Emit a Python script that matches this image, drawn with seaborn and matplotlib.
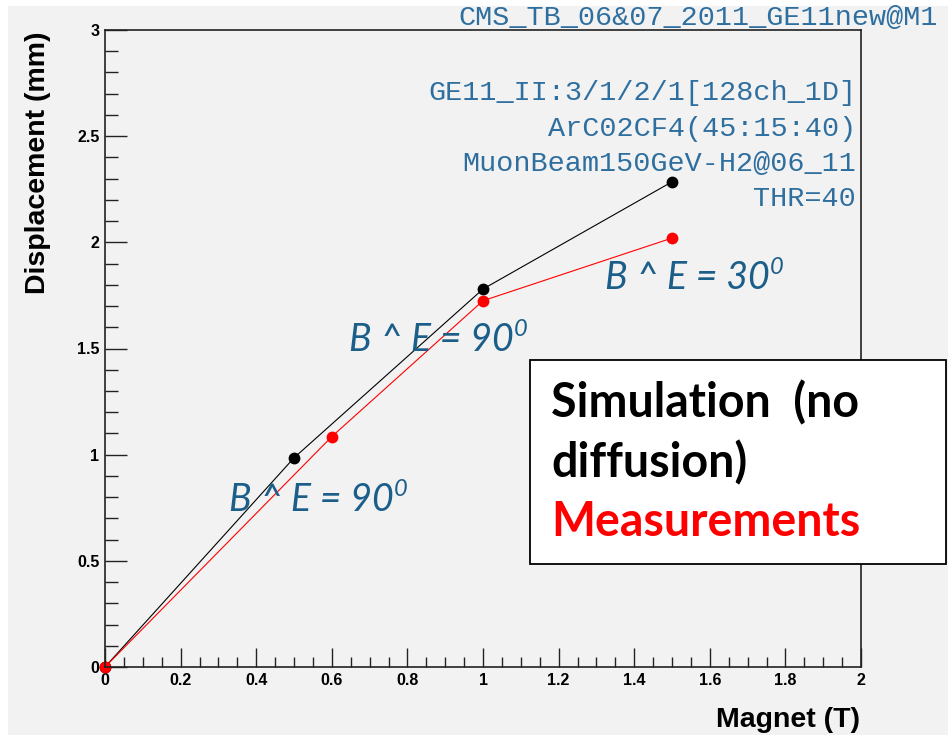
import matplotlib
matplotlib.use("Agg")
import matplotlib.pyplot as plt
import matplotlib.ticker as mticker
from matplotlib.patches import Rectangle
import numpy as np
import pandas as pd
import seaborn as sns

# ---------------- data ----------------
sim_x = [0.0, 0.5, 1.0, 1.5]
sim_y = [0.0, 0.985, 1.78, 2.285]
meas_x = [0.0, 0.6, 1.0, 1.5]
meas_y = [0.0, 1.085, 1.725, 2.02]
series_names = ["Simulation", "Measurements"]
series_colors = ["black", "red"]

x_ticks = [0, 0.2, 0.4, 0.6, 0.8, 1.0, 1.2, 1.4, 1.6, 1.8, 2.0]
y_ticks = [0, 0.5, 1.0, 1.5, 2.0, 2.5, 3.0]

info_title = "CMS_TB_06&07_2011_GE11new@M1"
info_lines = ["GE11_II:3/1/2/1[128ch_1D]", "ArC02CF4(45:15:40)",
              "MuonBeam150GeV-H2@06_11", "THR=40"]
angle_labels = ["B ^ E = 90", "B ^ E = 90", "B ^ E = 30"]

df = pd.DataFrame({
    "x": sim_x + meas_x,
    "y": sim_y + meas_y,
    "series": [series_names[0]] * len(sim_x) + [series_names[1]] * len(meas_x),
})

# ---------------- figure ----------------
W, H = 948, 744
fig = plt.figure(figsize=(W / 100, H / 100), dpi=100)
fig.patch.set_facecolor("white")
fig.patches.append(Rectangle((8 / W, 9 / H), 1 - 8 / W, 1 - 6 / H - 9 / H,
                             transform=fig.transFigure, facecolor="#f2f2f2",
                             edgecolor="none", zorder=-10))

def fx(px):
    return px / W

def fy(py):
    return 1 - py / H

ax = fig.add_axes([fx(105), fy(667), fx(861) - fx(105), fy(30) - fy(667)])
ax.set_facecolor("none")

sns.lineplot(data=df, x="x", y="y", hue="series",
             palette=dict(zip(series_names, series_colors)),
             hue_order=series_names, sort=False, estimator=None,
             marker="o", markersize=8.5, markeredgewidth=0, linewidth=0.8,
             legend=False, ax=ax, clip_on=False)

ax.set_xlim(0, 2)
ax.set_ylim(0, 3)
ax.set_xlabel("")
ax.set_ylabel("")

ax.xaxis.set_major_locator(mticker.FixedLocator(x_ticks))
ax.yaxis.set_major_locator(mticker.FixedLocator(y_ticks))
ax.xaxis.set_minor_locator(mticker.MultipleLocator(0.05))
ax.yaxis.set_minor_locator(mticker.MultipleLocator(0.1))
fmt = mticker.FuncFormatter(lambda v, p: "%g" % v)
ax.xaxis.set_major_formatter(fmt)
ax.yaxis.set_major_formatter(fmt)

ax.tick_params(axis="both", which="both", direction="in", color="#222222",
               width=1.0, top=False, right=False,
               labelsize=11.5, labelfontfamily="Liberation Sans")
ax.tick_params(axis="x", which="major", length=14, pad=4)
ax.tick_params(axis="x", which="minor", length=7)
ax.tick_params(axis="y", which="major", length=16, pad=4)
ax.tick_params(axis="y", which="minor", length=9)
plt.setp(ax.get_xticklabels() + ax.get_yticklabels(), fontweight="bold")
for sp in ax.spines.values():
    sp.set_linewidth(1.2)
    sp.set_color("#222222")

# axis titles
fig.text(fx(38), fy(31), "Displacement (mm)", rotation=90, ha="center",
         va="top", family="Liberation Sans", weight="bold", fontsize=20.5)
fig.text(fx(860), fy(720), "Magnet (T)", ha="right", va="center",
         family="Liberation Sans", weight="bold", fontsize=20.5)

# info text (Courier-like)
info_color = "#2f6f9f"
fig.text(fx(458), fy(18), info_title, ha="left", va="center",
         family="Liberation Mono", fontsize=20.5, color=info_color)
for i, line in enumerate(info_lines):
    fig.text(fx(856), fy(93 + 35.5 * i), line, ha="right", va="center",
             family="Liberation Mono", fontsize=20.5, color=info_color)

# angle annotations
ann_color = "#1b5e8a"
ann_pos = [(229, 500), (349, 340), (605, 278)]
for lab, (px, py) in zip(angle_labels, ann_pos):
    t = fig.text(fx(px), fy(py), lab, ha="left", va="center", family="Lato",
                 style="italic", fontsize=27, color=ann_color)
    ax.annotate("0", xy=(1.0, 1.08), xycoords=t, ha="left", va="top",
                family="Lato", style="italic", fontsize=17, color=ann_color,
                annotation_clip=False)

# legend-like box
fig.patches.append(Rectangle((fx(530), fy(564)), fx(946) - fx(530),
                             fy(360) - fy(564), transform=fig.transFigure,
                             facecolor="white", edgecolor="black",
                             linewidth=1.3, zorder=5))
box_lines = [("Simulation  (no", "black", 403), ("diffusion)", "black", 463),
             ("Measurements", "red", 522)]
for txt, col, py in box_lines:
    fig.text(fx(551), fy(py), txt, ha="left", va="center", family="Lato",
             weight="bold", fontsize=33.5, color=col, zorder=6)

fig.savefig("out.png", dpi=100, facecolor=fig.get_facecolor())
